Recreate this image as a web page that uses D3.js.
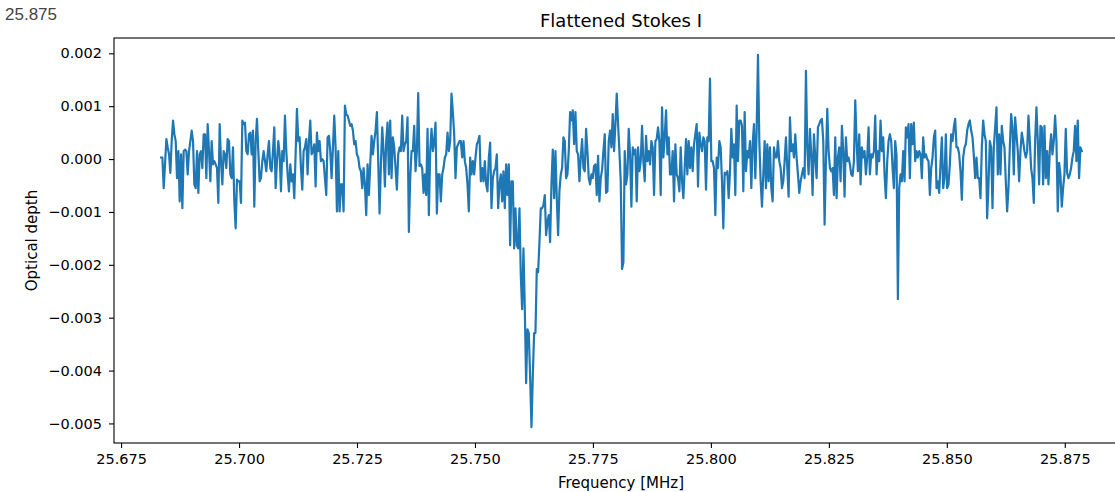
<!DOCTYPE html>
<html>
<head>
<meta charset="utf-8">
<script src="https://cdn.jsdelivr.net/npm/d3@7"></script>
<style>
  body { margin: 0; background: #fff; overflow: hidden; }
  svg text { font-family: "DejaVu Sans", sans-serif; }
</style>
</head>
<body>
<div id="chart"></div>
<script>
// spectrum channels, frequency of first and last channel in MHz
var freqStart = 25.68347,
	freqEnd = 25.8786;

// optical depth per channel, in units of 1e-3
var depthMilli = [
	0.03,0.03,-0.55,-0.10,0.38,0.22,0.09,-0.26,0.34,0.73,0.47,0.34,-0.36,0.15,-0.80,0.09,-0.93,0.15,0.18,0.15,-0.29,0.15,0.34,0.54,0.34,-0.48,-0.55,0.15,-0.64,0.09,0.15,-0.17,0.47,0.47,-0.36,0.66,0.15,-0.42,0.34,-0.10,-0.04,-0.10,-0.17,-0.83,0.66,-0.04,-0.48,0.15,0.09,-0.17,0.38,0.34,-0.29,-0.36,0.22,-0.80,-1.31,-0.39,-0.42,-0.42,-0.83,0.73,0.66,0.69,0.15,0.09,0.47,0.50,0.09,0.54,-0.90,0.34,0.76,0.15,-0.42,
	-0.36,-0.04,0.15,-0.04,-0.23,0.09,0.34,-0.17,-0.23,0.15,0.60,-0.55,-0.04,0.34,0.09,-0.61,0.15,-0.04,0.82,0.15,-0.29,-0.61,-0.10,-0.42,-0.29,-0.74,0.09,0.95,0.34,0.41,-0.17,-0.58,0.15,0.22,0.38,-0.29,0.34,0.73,0.09,0.15,0.28,-0.52,0.50,0.15,0.34,-0.04,0.00,-0.04,-0.36,-0.68,0.41,0.44,0.15,-0.36,0.22,0.82,0.22,-0.99,0.15,-0.99,-0.48,-0.48,-0.99,1.01,0.85,0.82,0.73,0.63,0.66,0.54,0.28,0.34,0.09,0.03,-0.17,
	-0.23,-0.55,-0.17,-0.48,-1.06,-0.10,-0.68,-0.10,0.44,0.09,0.34,0.54,0.89,-0.04,-1.03,-0.10,0.60,0.15,-0.52,0.34,0.69,-0.29,0.73,-0.36,0.41,0.22,-0.17,-0.58,0.09,0.22,0.15,0.82,0.15,0.28,0.34,0.79,-1.38,-0.36,0.15,0.15,0.63,-0.23,0.15,1.25,-0.13,-0.10,-0.17,-0.64,-0.29,-0.68,0.57,-1.06,0.15,0.57,0.15,0.34,0.69,-1.03,-0.29,-0.29,-0.80,-0.29,-0.17,0.03,0.09,0.50,0.15,0.34,1.24,0.89,0.47,-0.36,0.22,0.28,0.34,
	0.34,0.03,0.34,-0.04,-0.17,-0.48,-0.99,0.03,-0.29,-0.04,-0.29,0.03,0.28,0.34,0.44,-0.42,-0.17,-0.42,-0.04,-0.48,-0.61,0.03,0.31,-0.93,-0.36,-0.23,-0.17,0.09,-0.93,-0.48,-0.29,-0.80,-0.23,-0.93,-0.10,-0.68,-0.10,-1.63,-0.42,-0.42,-1.69,-0.93,-1.63,-1.69,-0.93,-2.20,-2.84,-1.69,-2.84,-4.24,-3.22,-3.29,-4.11,-5.07,-4.11,-3.29,-3.29,-2.08,-2.14,-1.57,-0.93,-0.93,-0.87,-0.68,-1.44,-1.18,-1.06,-1.57,-0.48,0.18,-0.74,0.15,-0.74,-1.44,-0.60,
	-0.29,-0.17,0.41,0.34,-0.36,-0.29,0.15,0.89,0.73,0.92,0.28,0.89,0.15,0.09,-0.42,0.03,0.38,-0.17,-0.23,0.57,0.15,-0.36,-0.48,-0.29,-0.36,-0.13,-0.10,-0.68,0.06,-0.80,-0.36,-0.20,0.15,0.47,-0.64,-0.61,0.34,0.54,0.22,0.85,0.15,0.66,1.24,0.66,0.15,-0.42,-2.08,-1.95,0.15,-0.48,-0.29,0.57,0.09,-0.90,0.22,0.09,0.18,-0.80,0.22,-0.23,-0.04,0.63,-0.04,-0.42,0.44,-0.04,0.15,-0.10,0.34,0.22,-0.68,0.34,0.38,0.60,0.34,
	-0.68,0.98,0.03,0.41,0.92,0.09,0.41,-0.29,-0.29,0.15,-0.80,0.28,-0.29,-0.36,-0.61,0.22,-0.42,-0.74,-0.17,0.38,-0.29,0.34,-0.17,0.22,-0.23,0.28,0.47,0.66,-0.52,0.50,0.28,0.15,0.41,0.34,-0.58,0.41,0.34,1.52,-0.04,-0.04,-0.17,-1.06,0.03,-0.17,0.34,0.22,-0.42,-1.31,-0.26,-0.29,-0.23,-0.74,-0.23,0.57,0.03,0.28,-0.68,1.01,-0.04,0.73,0.73,0.63,-0.61,0.89,-0.23,0.15,0.03,0.34,-0.55,0.28,0.66,-0.36,0.54,1.97,0.34,
	-0.42,-0.90,-0.29,0.34,-0.55,0.28,-0.42,0.22,-0.55,-0.80,0.22,0.03,0.03,0.34,-0.04,-0.17,-0.55,-0.42,-0.04,0.41,-0.17,-0.71,0.79,0.15,0.28,0.03,0.47,0.03,-0.29,-0.64,-0.42,-0.29,-0.17,-0.36,1.67,0.22,-0.29,0.57,0.09,-0.68,0.47,0.03,-0.36,0.60,0.66,0.73,0.76,0.34,-1.24,-0.04,0.95,0.15,-0.17,-0.23,-0.17,-0.68,0.41,-0.74,0.03,0.22,-0.42,0.63,0.15,-0.71,0.41,-0.04,0.03,-0.10,-0.29,-0.32,-0.04,1.11,0.34,-0.23,
	0.47,-0.48,0.22,0.03,0.15,-0.29,0.03,0.60,-0.29,0.09,0.03,0.15,0.82,-0.29,0.15,-0.04,0.73,0.15,0.41,-0.29,-0.74,-0.04,0.34,0.47,0.34,-0.17,-0.55,0.34,0.06,-2.65,-0.55,-0.29,-0.42,0.15,-0.42,0.60,0.41,0.66,-0.36,0.66,0.28,0.69,-0.04,0.15,0.03,0.15,0.09,-0.36,0.41,0.03,0.09,0.00,-0.04,-0.68,-0.17,0.03,0.41,0.54,-0.55,-0.42,-0.64,-0.10,0.41,-0.55,-0.36,0.47,-0.55,-0.48,-0.10,0.47,0.34,0.60,0.76,0.22,0.22,0.09,-0.23,-0.77,0.03,0.22,0.28,0.54,0.66,
	0.73,0.54,0.41,0.06,-0.36,0.03,-0.36,-0.36,-0.74,0.22,0.73,0.47,0.34,-1.12,-0.48,0.34,0.22,-0.93,0.22,0.60,0.98,-0.29,0.47,-0.29,0.63,0.34,0.22,-0.42,-0.99,-0.55,0.22,0.85,0.60,-0.29,0.79,0.47,0.15,-0.42,0.15,0.50,0.34,0.15,0.03,0.15,0.82,0.34,-0.17,-0.36,-0.83,0.34,0.98,0.34,-0.48,0.63,0.60,-0.48,0.63,-0.36,0.15,-0.48,0.15,0.47,0.09,0.34,0.82,0.34,-0.99,-0.07,-0.29,-0.90,-0.55,-0.29,0.57,-0.26,-0.36,-0.29,-0.17,0.03,0.15,0.63,-0.04,0.73,-0.36,0.22,0.15
];

// tick labels
var xTicks = [25.675, 25.700, 25.725, 25.750, 25.775, 25.800, 25.825, 25.850, 25.875];
var yTicks = [0.002, 0.001, 0.000, -0.001, -0.002, -0.003, -0.004, -0.005];

InitVis();

function InitVis() {
	// constants (the axes run past the right edge of the picture, as in the screenshot)
	var WIDTH = 1115,
		HEIGHT = 492,
		margin = {top: 38, bottom: 49, left: 114},
		axesRight = 1128,
		innerW = axesRight - margin.left,
		innerH = HEIGHT - margin.top - margin.bottom;

	var svg = d3.select('#chart').append('svg')
		.attr('width', WIDTH)
		.attr('height', HEIGHT);

	// channel frequencies, evenly spaced between first and last channel
	var chan = d3.scaleLinear()
		.domain([0, depthMilli.length - 1])
		.range([freqStart, freqEnd]);
	var data = depthMilli.map(function(v, i) {
		return {f: chan(i), d: v * 1e-3};
	});

	var x = d3.scaleLinear()
		.domain([25.6735, 25.8884])
		.range([0, innerW]);
	var y = d3.scaleLinear()
		.domain([-0.00537, 0.00229])
		.range([innerH, 0]);

	// stray label top left
	svg.append('text')
		.attr('x', 5)
		.attr('y', 20)
		.attr('fill', '#444')
		.style('font-family', '"Liberation Sans", Arial, sans-serif')
		.style('font-size', '17px')
		.text('25.875');

	var g = svg.append('g')
		.attr('transform', 'translate(' + margin.left + ',' + margin.top + ')');

	var fmt = d3.format('.3f');
	var minus = function(s) { return s.replace('-', '\u2212'); };

	var xAxis = g.append('g')
		.attr('transform', 'translate(0,' + innerH + ')')
		.call(d3.axisBottom(x).tickValues(xTicks).tickSize(5).tickPadding(6)
			.tickFormat(function(d) { return minus(fmt(d)); }));
	var yAxis = g.append('g')
		.call(d3.axisLeft(y).tickValues(yTicks).tickSize(5).tickPadding(7)
			.tickFormat(function(d) { return minus(fmt(d)); }));

	[xAxis, yAxis].forEach(function(a) {
		a.select('.domain').remove();
		a.selectAll('text')
			.attr('fill', '#000')
			.style('font-family', '"DejaVu Sans", sans-serif')
			.style('font-size', '14.5px');
		a.selectAll('line').attr('stroke', '#000').attr('stroke-width', 1.1);
	});

	// data line
	var line = d3.line()
		.x(function(p) { return x(p.f); })
		.y(function(p) { return y(p.d); });

	g.append('path')
		.datum(data)
		.attr('fill', 'none')
		.attr('stroke', '#1f77b4')
		.attr('stroke-width', 2.2)
		.attr('stroke-linejoin', 'round')
		.attr('stroke-linecap', 'square')
		.attr('d', line);

	// frame
	g.append('rect')
		.attr('width', innerW)
		.attr('height', innerH)
		.attr('fill', 'none')
		.attr('stroke', '#000')
		.attr('stroke-width', 1.1);

	// title and axis labels
	g.append('text')
		.attr('x', innerW / 2)
		.attr('y', -11)
		.attr('text-anchor', 'middle')
		.style('font-size', '18px')
		.text('Flattened Stokes I');

	g.append('text')
		.attr('x', innerW / 2)
		.attr('y', innerH + 45)
		.attr('text-anchor', 'middle')
		.style('font-size', '15px')
		.text('Frequency [MHz]');

	g.append('text')
		.attr('transform', 'translate(' + (-77) + ',' + (innerH / 2) + ') rotate(-90)')
		.attr('text-anchor', 'middle')
		.style('font-size', '15px')
		.text('Optical depth');
}
</script>
</body>
</html>
